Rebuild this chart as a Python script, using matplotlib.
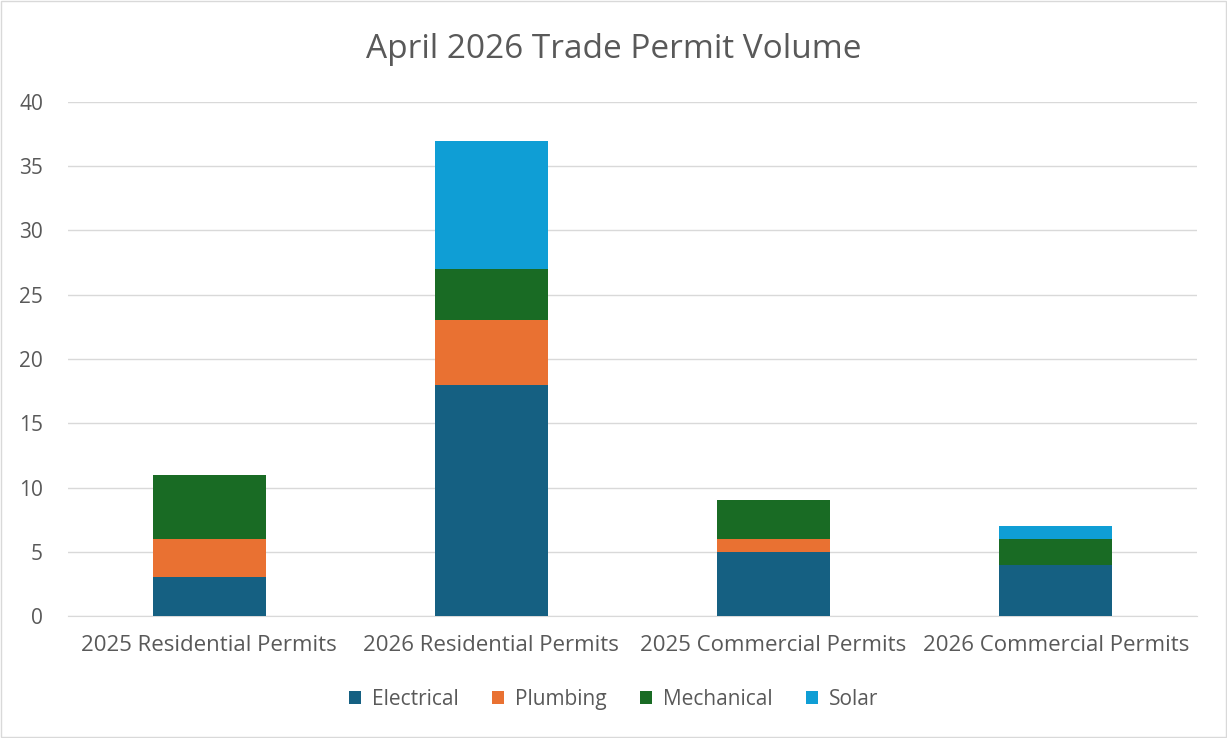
import numpy as np
import matplotlib.pyplot as plt

categories = ["2025 Residential Permits", "2026 Residential Permits",
              "2025 Commercial Permits", "2026 Commercial Permits"]
electrical = [3, 18, 5, 4]
plumbing = [3, 5, 1, 0]
mechanical = [5, 4, 3, 2]
solar = [0, 10, 0, 1]

series = [("Electrical", electrical, "#156082"),
          ("Plumbing", plumbing, "#E97132"),
          ("Mechanical", mechanical, "#196B24"),
          ("Solar", solar, "#0F9ED5")]

plt.rcParams['font.family'] = ['Open Sans', 'DejaVu Sans']
txt = "#595959"

fig = plt.figure(figsize=(12.27, 7.38), dpi=100)
ax = fig.add_axes([0.0554, 0.1653, 0.9201, 0.6965])

x = np.arange(len(categories))
bottom = np.zeros(len(categories))
for name, vals, col in series:
    vals = np.array(vals, dtype=float)
    ax.bar(x, vals, 0.4, bottom=bottom, color=col, label=name, zorder=3)
    bottom += vals

ax.set_xlim(-0.5, 3.5)
ax.set_ylim(0, 40)
ax.set_yticks(range(0, 41, 5))
ax.set_xticks(x)
ax.set_xticklabels(categories, fontsize=16)
ax.tick_params(axis='both', length=0, labelsize=15, colors=txt)
ax.tick_params(axis='x', pad=14, labelsize=16)
ax.tick_params(axis='y', pad=18)
ax.grid(axis='y', color='#D9D9D9', linewidth=1, zorder=0)
for s in ['top', 'right', 'left']:
    ax.spines[s].set_visible(False)
ax.spines['bottom'].set_color('#D9D9D9')

fig.text(0.5, 0.933, "April 2026 Trade Permit Volume", ha='center', va='center',
         fontsize=24, color=txt)

handles, labels = ax.get_legend_handles_labels()
fig.legend(handles, labels, loc='center', bbox_to_anchor=(0.5, 0.052), ncol=4,
           frameon=False, fontsize=15, labelcolor=txt, handlelength=0.6,
           handleheight=0.6, columnspacing=1.6, handletextpad=0.5)

fig.patches.append(plt.Rectangle((0.001, 0.001), 0.998, 0.998, transform=fig.transFigure,
                                 fill=False, edgecolor='#D9D9D9', linewidth=1))

fig.savefig("out.png", dpi=100)
